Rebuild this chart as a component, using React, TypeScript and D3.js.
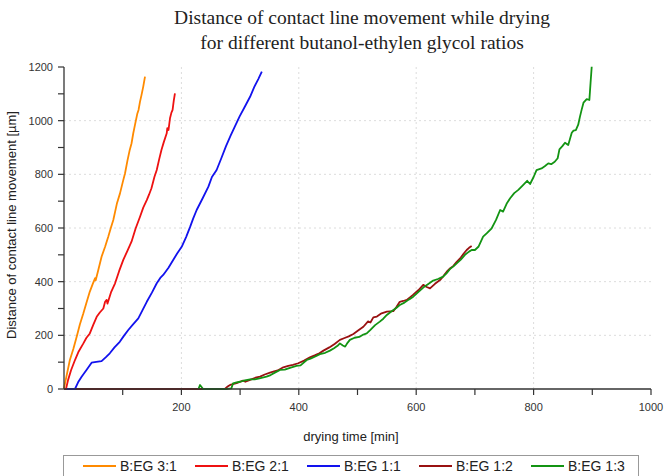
import React from "react";
import * as d3 from "d3";

const titleLines = ["Distance of contact line movement while drying", "for different butanol-ethylen glycol ratios"];
const xLabel = "drying time [min]";
const yLabel = "Distance of contact line movement [µm]";
const xTickLabels = [200, 400, 600, 800, 1000];
const yTickLabels = [0, 200, 400, 600, 800, 1000, 1200];
const seriesNames = ["B:EG 3:1", "B:EG 2:1", "B:EG 1:1", "B:EG 1:2", "B:EG 1:3"];
const seriesColors = ["#FF8A00", "#EE1111", "#1212EE", "#991111", "#139413"];

const egs31: [number, number][] = [
  [0, 3], [4, 45], [10, 108], [16, 150], [21.6, 195], [27, 240], [33, 282], [38, 320], [44, 363], [49, 392],
  [53, 413], [54, 405], [58, 440], [64, 493], [70, 530], [75.5, 568], [80, 602], [84, 630], [90, 690],
  [95.4, 729], [100, 770], [104, 804], [108, 850], [112, 891], [115, 915], [118, 953], [121, 985],
  [125, 1027], [127, 1040], [129.5, 1071], [132, 1095], [135, 1127], [138, 1164],
];
const egs21: [number, number][] = [
  [3.4, 0], [7, 34], [12, 70], [18.7, 108], [25, 140], [33, 170], [38, 190], [44, 207], [50, 240],
  [55.7, 269], [61, 285], [67, 300], [70, 325], [72.7, 332], [74, 318], [80, 360], [87, 394], [94, 440],
  [101, 481], [108, 515], [115, 549], [122, 598], [129.5, 642], [135, 676], [141, 704], [145, 725],
  [149, 748], [154, 790], [158, 816], [162, 855], [166, 891], [170, 920], [175, 953], [176, 972],
  [178, 965], [180.6, 1009], [183, 1030], [185, 1040], [187, 1075], [189, 1102],
];
const egs11: [number, number][] = [
  [4.5, 0], [18.7, 0], [24, 25], [30, 46], [38, 70], [47, 98], [55, 101], [64, 104], [71, 118], [78, 133],
  [86, 155], [95, 176], [102, 198], [109.5, 220], [118, 242], [126.6, 263], [134, 295], [141, 325],
  [150, 360], [158, 394], [164, 414], [169, 425], [178, 452], [186, 481], [193, 506], [200.5, 530],
  [208, 566], [215, 605], [220, 635], [226, 667], [236, 710], [246, 754], [252, 790], [260, 816],
  [268, 860], [276, 905], [284, 945], [291, 978], [299, 1015], [308, 1052], [317, 1089], [324, 1125],
  [331, 1155], [337, 1183],
];
const egs12: [number, number][] = [
  [0, 0], [274, 0], [278, 8], [283, 15], [294, 22], [305, 31], [309, 27], [318, 35], [326, 42], [334, 46],
  [342, 54], [351, 61], [358, 66], [364, 69], [373.6, 81], [382, 86], [390, 90], [399, 96], [409, 106],
  [419, 118], [428, 126], [435, 133], [442, 143], [452, 155], [461, 168], [470, 183], [478, 190],
  [485, 196], [493, 205], [501, 218], [510, 232], [518, 252], [522, 248], [527, 267], [533, 270],
  [541, 282], [550, 288], [561, 290], [566, 305], [572, 325], [578, 328], [584, 332], [594, 350],
  [604, 369], [612, 388], [618, 380], [623.5, 375], [632, 392], [640.5, 406], [646, 420], [652, 437],
  [658, 450], [663, 458], [669, 474], [676, 490], [681, 505], [686, 518], [690, 526], [694.5, 533],
];
const egs13: [number, number][] = [
  [229, 0], [231.7, 15], [237, 0], [260, 0], [277, 0], [285, 2], [288, 21], [294, 25], [300, 27],
  [308, 32], [317, 36], [325, 36], [333, 40], [345, 46], [352, 52], [360, 62], [368, 71], [376, 72],
  [385, 79], [396, 86], [403, 88], [413.5, 108], [420, 113], [428, 121], [436, 130], [445, 135],
  [453, 143], [460, 152], [466, 161], [470, 170], [475, 162], [479, 158], [483, 172], [487, 183],
  [495, 191], [503, 194], [510, 203], [515.7, 207], [522, 220], [530, 238], [538, 251], [544, 262],
  [550, 276], [558, 290], [566, 302], [572, 313], [580, 322], [588, 334], [595, 344], [603, 360],
  [612, 378], [620, 390], [629, 404], [637, 410], [646, 419], [652, 432], [658, 448], [663, 456],
  [669, 468], [676, 482], [683, 500], [690, 512], [694.5, 518], [700, 518], [706, 530], [714, 568],
  [720, 580], [728.6, 599], [736, 630], [743, 667], [748, 661], [754, 690], [760, 711], [767, 730],
  [774, 742], [782, 760], [789, 776], [794, 764], [800, 790], [805, 816], [813.5, 822], [819, 830],
  [825, 841], [830, 838], [836, 847], [841, 860], [844, 893], [849, 905], [853.5, 918], [859, 909],
  [865, 955], [868, 963], [872, 965], [876, 985], [879, 1015], [882, 1042], [885, 1067], [890.5, 1080],
  [895, 1077], [897, 1140], [899, 1201],
];
const seriesData = [egs31, egs21, egs11, egs12, egs13];
const drawOrder = [3, 4, 0, 1, 2];

const W = 664;
const H = 476;
const left = 64;
const right = 651;
const top = 67;
const bottom = 389;

export default function App() {
  const x = d3.scaleLinear().domain([0, 1000]).range([left, right]);
  const y = d3.scaleLinear().domain([0, 1200]).range([bottom, top]);
  const line = d3
    .line<[number, number]>()
    .x((d) => x(d[0]))
    .y((d) => y(d[1]));
  const xMinor = d3.range(100, 1001, 100);
  const yMinor = d3.range(100, 1201, 100);
  const sans = "'Liberation Sans', Arial, sans-serif";
  const legendItemX = [83, 195, 307, 419, 531];

  return (
    <svg
      width={W}
      height={H}
      viewBox={`0 0 ${W} ${H}`}
      style={{ position: "fixed", left: 0, top: 0, background: "#fff" }}
    >
      <rect x={0} y={0} width={W} height={H} fill="#fff" />
      {titleLines.map((t, i) => (
        <text
          key={t}
          x={362}
          y={24 + i * 25}
          textAnchor="middle"
          fontFamily="'Liberation Serif', 'Times New Roman', serif"
          fontSize={19.5}
          fill="#222"
        >
          {t}
        </text>
      ))}
      {/* grid */}
      {xTickLabels
        .filter((v) => v < 1000)
        .map((v) => (
          <line
            key={"gx" + v}
            x1={x(v)}
            x2={x(v)}
            y1={y(0)}
            y2={y(1200)}
            stroke="#dcdcdc"
            strokeWidth={1}
            strokeDasharray="2,3"
          />
        ))}
      {yTickLabels
        .filter((v) => v > 0 && v < 1200)
        .map((v) => (
          <line
            key={"gy" + v}
            x1={x(0)}
            x2={x(1000)}
            y1={y(v)}
            y2={y(v)}
            stroke="#dcdcdc"
            strokeWidth={1}
            strokeDasharray="2,3"
          />
        ))}
      {/* series */}
      {drawOrder.map((i) => (
        <path
          key={seriesNames[i]}
          d={line(seriesData[i]) || ""}
          fill="none"
          stroke={seriesColors[i]}
          strokeWidth={1.8}
          strokeLinejoin="round"
        />
      ))}
      {/* axes */}
      <line x1={x(0)} x2={x(1000)} y1={bottom} y2={bottom} stroke="#333" strokeWidth={1.3} />
      <line x1={left} x2={left} y1={bottom} y2={top} stroke="#333" strokeWidth={1.3} />
      {xMinor.map((v) => (
        <line key={"tx" + v} x1={x(v)} x2={x(v)} y1={bottom} y2={bottom + 6} stroke="#333" strokeWidth={1.2} />
      ))}
      {yMinor.map((v) => (
        <line key={"ty" + v} x1={left - 6} x2={left} y1={y(v)} y2={y(v)} stroke="#333" strokeWidth={1.2} />
      ))}
      <line x1={left - 6} x2={left} y1={bottom} y2={bottom} stroke="#333" strokeWidth={1.2} />
      {xTickLabels.map((v) => (
        <text key={"lx" + v} x={x(v)} y={411} textAnchor="middle" fontFamily={sans} fontSize={11} fill="#333">
          {v}
        </text>
      ))}
      {yTickLabels.map((v) => (
        <text key={"ly" + v} x={53} y={y(v) + 4} textAnchor="end" fontFamily={sans} fontSize={11} fill="#333">
          {v}
        </text>
      ))}
      <text x={351} y={441} textAnchor="middle" fontFamily={sans} fontSize={13} fill="#222">
        {xLabel}
      </text>
      <text
        transform={`translate(16, 225) rotate(-90)`}
        textAnchor="middle"
        fontFamily={sans}
        fontSize={13}
        fill="#222"
      >
        {yLabel}
      </text>
      {/* legend */}
      <rect x={63.5} y={455.5} width={575} height={30} fill="#fff" stroke="#999" strokeWidth={1} />
      {seriesNames.map((n, i) => (
        <g key={"lg" + n}>
          <line
            x1={legendItemX[i]}
            x2={legendItemX[i] + 33}
            y1={466}
            y2={466}
            stroke={seriesColors[i]}
            strokeWidth={1.8}
          />
          <text x={legendItemX[i] + 37} y={471} fontFamily={sans} fontSize={14} fill="#222">
            {n}
          </text>
        </g>
      ))}
    </svg>
  );
}
